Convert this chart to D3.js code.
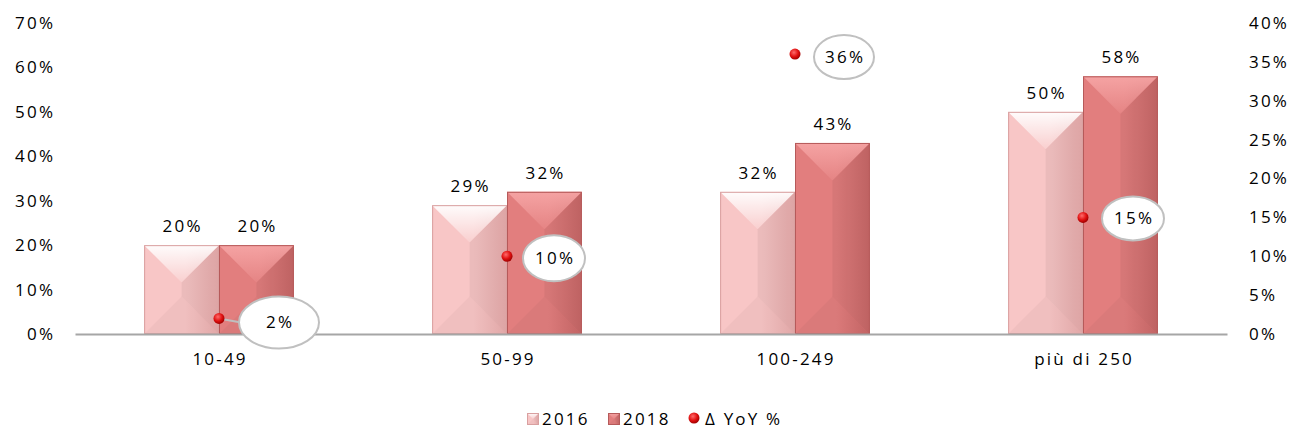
<!DOCTYPE html>
<html>
<head>
<meta charset="utf-8">
<script src="https://cdn.jsdelivr.net/npm/d3@7/dist/d3.min.js"></script>
<style>
  html, body { margin: 0; padding: 0; background: #fff; }
  svg { display: block; }
  text { font-family: "Open Sans", "DejaVu Sans", sans-serif; font-size: 17px; fill: #000; letter-spacing: 2.2px; }
</style>
</head>
<body>
<svg id="chart" width="1292" height="434"></svg>
<script>
// Company size classes
const categories = ["10-49", "50-99", "100-249", "più di 250"];
const seriesNames = ["2016", "2018"];
// Share of companies per class (left axis)
const values2016 = [0.20, 0.29, 0.32, 0.50];
const values2018 = [0.20, 0.32, 0.43, 0.58];
// Year-over-year change (right axis)
const yoyValues = [0.02, 0.10, 0.36, 0.15];
const yoyName = "Δ YoY %";
// Axis ticks
const leftTicks = [0, 0.1, 0.2, 0.3, 0.4, 0.5, 0.6, 0.7];
const rightTicks = [0, 0.05, 0.10, 0.15, 0.20, 0.25, 0.30, 0.35, 0.40];

// Placement of the callout bubbles next to each YoY point
const calloutLayout = [
  { dx: 60, dy: 4, rx: 40, ry: 26, leader: true },
  { dx: 47, dy: 2, rx: 31, ry: 23, leader: false },
  { dx: 49, dy: 3, rx: 30, ry: 22, leader: false },
  { dx: 50, dy: 1, rx: 31, ry: 22, leader: false }
];

const svg = d3.select("#chart");
const plotLeft = 75, plotRight = 1227, plotTop = 23, plotBase = 334;
const track = 2.2; // letter spacing, compensated on centred labels

const x0 = d3.scaleBand().domain(categories).range([plotLeft, plotRight]).padding(0);
const x1 = d3.scaleBand().domain(seriesNames)
  .range([x0.bandwidth() * 0.24, x0.bandwidth() * 0.76]).padding(0);
const yL = d3.scaleLinear().domain([0, 0.7]).range([plotBase, plotTop]);
const yR = d3.scaleLinear().domain([0, 0.4]).range([plotBase, plotTop]);
const pct = d3.format(".0%");

// Gradients
const defs = svg.append("defs");
const palette = {
  "2016": { l: "#f8c6c6", r: "#e9adad", hi: "#ffffff", edge: "#d9a0a0" },
  "2018": { l: "#e27e7e", r: "#c96868", hi: "#f6a5a5", edge: "#b65a5a" }
};
seriesNames.forEach(s => {
  const p = palette[s];
  const g = defs.append("linearGradient").attr("id", "body" + s)
    .attr("x1", 0).attr("x2", 1).attr("y1", 0).attr("y2", 0);
  g.append("stop").attr("offset", "0%").attr("stop-color", p.l);
  g.append("stop").attr("offset", "55%").attr("stop-color", p.l);
  g.append("stop").attr("offset", "100%").attr("stop-color", p.r);
  const t = defs.append("linearGradient").attr("id", "top" + s)
    .attr("x1", 0).attr("x2", 0).attr("y1", 0).attr("y2", 1);
  t.append("stop").attr("offset", "0%").attr("stop-color", p.hi).attr("stop-opacity", 0.95);
  t.append("stop").attr("offset", "100%").attr("stop-color", p.hi).attr("stop-opacity", 0.15);
});
const rg = defs.append("radialGradient").attr("id", "dot")
  .attr("cx", "40%").attr("cy", "35%").attr("r", "65%");
rg.append("stop").attr("offset", "0%").attr("stop-color", "#ff6b6b");
rg.append("stop").attr("offset", "60%").attr("stop-color", "#e01010");
rg.append("stop").attr("offset", "100%").attr("stop-color", "#a00000");

// Bevelled bar drawing
function bevelBar(g, x, y, w, h, s) {
  const p = palette[s];
  const d = Math.min(w / 2, h / 2);
  g.append("rect").attr("x", x).attr("y", y).attr("width", w).attr("height", h)
    .attr("fill", `url(#body${s})`);
  // right face (shaded)
  g.append("path")
    .attr("d", `M${x + w},${y} L${x + w},${y + h} L${x + w / 2},${y + h - d} L${x + w / 2},${y + d} Z`)
    .attr("fill", "#000").attr("opacity", 0.05);
  // bottom face
  g.append("path")
    .attr("d", `M${x},${y + h} L${x + w},${y + h} L${x + w / 2},${y + h - d} Z`)
    .attr("fill", "#000").attr("opacity", 0.03);
  // top face (highlight)
  g.append("path")
    .attr("d", `M${x},${y} L${x + w},${y} L${x + w / 2},${y + d} Z`)
    .attr("fill", `url(#top${s})`);
  g.append("rect").attr("x", x + 0.5).attr("y", y + 0.5).attr("width", w - 1).attr("height", h - 1)
    .attr("fill", "none").attr("stroke", p.edge).attr("stroke-width", 1);
}

const barData = categories.map((c, i) => ({
  cat: c,
  bars: [{ s: "2016", v: values2016[i] }, { s: "2018", v: values2018[i] }]
}));

const gBars = svg.append("g");
barData.forEach(d => {
  d.bars.forEach(b => {
    const x = x0(d.cat) + x1(b.s);
    const y = yL(b.v);
    bevelBar(gBars, x, y, x1.bandwidth(), plotBase - y, b.s);
    gBars.append("text")
      .attr("x", x + x1.bandwidth() / 2 + track / 2).attr("y", y - 19).attr("dy", "0.35em")
      .attr("text-anchor", "middle").text(pct(b.v));
  });
});

// Axes
const axL = svg.append("g").attr("transform", `translate(${plotLeft},0)`)
  .call(d3.axisLeft(yL).tickValues(leftTicks).tickFormat(pct).tickSize(0).tickPadding(22 - track));
axL.select(".domain").remove();
const axR = svg.append("g").attr("transform", `translate(${plotRight},0)`)
  .call(d3.axisRight(yR).tickValues(rightTicks).tickFormat(pct).tickSize(0).tickPadding(22));
axR.select(".domain").remove();
const axB = svg.append("g").attr("transform", `translate(0,${plotBase})`)
  .call(d3.axisBottom(x0).tickSize(0).tickPadding(19));
axB.select(".domain").attr("stroke", "#a6a6a6").attr("stroke-width", 2);
axB.selectAll(".tick text").attr("dx", track / 2);
svg.selectAll(".tick text").attr("font-family", null).attr("font-size", null).attr("fill", "#000");

// YoY points with callouts
const gPts = svg.append("g");
yoyValues.forEach((v, i) => {
  const cx = x0(categories[i]) + x0.bandwidth() / 2;
  const cy = yR(v);
  const L = calloutLayout[i];
  const ex = cx + L.dx, ey = cy + L.dy;
  if (L.leader) {
    gPts.append("line").attr("x1", cx).attr("y1", cy)
      .attr("x2", ex - L.rx + 2).attr("y2", ey)
      .attr("stroke", "#bfbfbf").attr("stroke-width", 2);
  }
  gPts.append("circle").attr("cx", cx).attr("cy", cy).attr("r", 5.5).attr("fill", "url(#dot)");
  gPts.append("ellipse").attr("cx", ex).attr("cy", ey).attr("rx", L.rx).attr("ry", L.ry)
    .attr("fill", "#fff").attr("stroke", "#c0c0c0").attr("stroke-width", 2);
  gPts.append("text").attr("x", ex + track / 2).attr("y", ey).attr("dy", "0.35em")
    .attr("text-anchor", "middle").text(pct(v));
});

// Legend
const lg = svg.append("g").attr("transform", "translate(0,419)");
const legendItems = [
  { type: "bar", s: "2016", label: seriesNames[0], x: 527 },
  { type: "bar", s: "2018", label: seriesNames[1], x: 608 },
  { type: "dot", label: yoyName, x: 688 }
];
legendItems.forEach(it => {
  if (it.type === "bar") {
    bevelBar(lg, it.x, -6, 12, 12, it.s);
    lg.append("text").attr("x", it.x + 15).attr("y", 0).attr("dy", "0.35em").text(it.label);
  } else {
    lg.append("circle").attr("cx", it.x + 6).attr("cy", -1).attr("r", 5.5).attr("fill", "url(#dot)");
    lg.append("text").attr("x", it.x + 17).attr("y", 0).attr("dy", "0.35em").text(it.label);
  }
});
</script>
</body>
</html>
